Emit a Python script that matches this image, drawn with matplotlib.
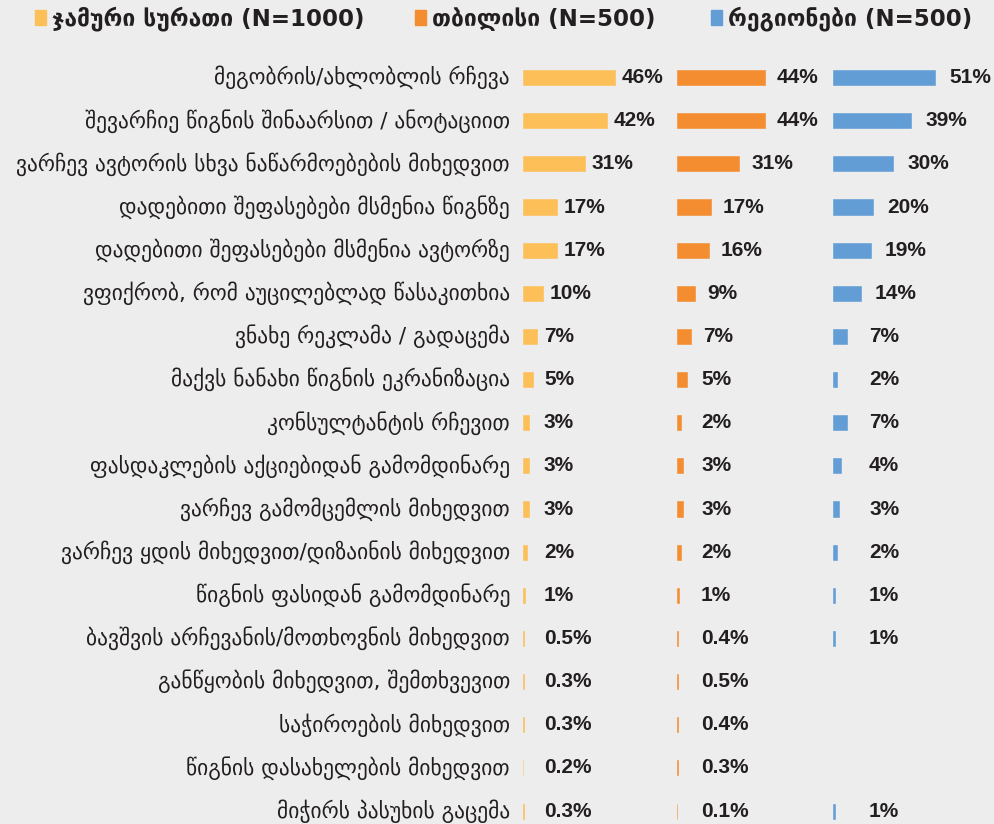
import numpy as np
import matplotlib.pyplot as plt
from matplotlib.patches import Rectangle

categories = [
    "მეგობრის/ახლობლის რჩევა",
    "შევარჩიე წიგნის შინაარსით / ანოტაციით",
    "ვარჩევ ავტორის სხვა ნაწარმოებების მიხედვით",
    "დადებითი შეფასებები მსმენია წიგნზე",
    "დადებითი შეფასებები მსმენია ავტორზე",
    "ვფიქრობ, რომ აუცილებლად წასაკითხია",
    "ვნახე რეკლამა / გადაცემა",
    "მაქვს ნანახი წიგნის ეკრანიზაცია",
    "კონსულტანტის რჩევით",
    "ფასდაკლების აქციებიდან გამომდინარე",
    "ვარჩევ გამომცემლის მიხედვით",
    "ვარჩევ ყდის მიხედვით/დიზაინის მიხედვით",
    "წიგნის ფასიდან გამომდინარე",
    "ბავშვის არჩევანის/მოთხოვნის მიხედვით",
    "განწყობის მიხედვით, შემთხვევით",
    "საჭიროების მიხედვით",
    "წიგნის დასახელების მიხედვით",
    "მიჭირს პასუხის გაცემა",
]
total = [46, 42, 31, 17, 17, 10, 7, 5, 3, 3, 3, 2, 1, 0.5, 0.3, 0.3, 0.2, 0.3]
tbilisi = [44, 44, 31, 17, 16, 9, 7, 5, 2, 3, 3, 2, 1, 0.4, 0.5, 0.4, 0.3, 0.1]
regions = [51, 39, 30, 20, 19, 14, 7, 2, 7, 4, 3, 2, 1, 1, np.nan, np.nan, np.nan, 1]

series_names = ["ჯამური სურათი (N=1000)", "თბილისი (N=500)", "რეგიონები (N=500)"]
colors = ["#fdbf57", "#f48c30", "#629dd6"]

BG = "#ededed"
TXT = "#231f20"
W, H = 994, 824

fig = plt.figure(figsize=(W / 100, H / 100), dpi=100)
fig.patch.set_facecolor(BG)

# panel geometry in pixels: left edge, width (1% = 2 px)
panels = [(523, 154), (677, 156), (833, 161)]
label_gap = [3.5, 6, 7]
label_min = [10.5, 12, 18]
top_px, bot_px = 56, 824
y = np.arange(len(categories))

for k, (vals, (left, width)) in enumerate(zip([total, tbilisi, regions], panels)):
    ax = fig.add_axes([left / W, 1 - bot_px / H, width / W, (bot_px - top_px) / H])
    ax.set_xlim(0, width / 2)
    ax.set_ylim(17.3, -0.5)
    ax.axis("off")
    v = np.array(vals, dtype=float)
    ok = ~np.isnan(v)
    ax.barh(y[ok], v[ok], height=0.35, color=colors[k],
            edgecolor=colors[k], linewidth=0.4)
    for i in y[ok]:
        s = f"{v[i]:g}%"
        ax.text(max(v[i] + label_gap[k], label_min[k]), i, s, ha="left", va="center",
                fontsize=15, fontweight="bold", family="Liberation Sans", color=TXT)
    if k == 0:
        for i, c in enumerate(categories):
            ax.text(-6.5, i, c, ha="right", va="center", fontsize=15.5,
                    family="DejaVu Sans", color=TXT, clip_on=False)

# legend across the top
leg_x = [35, 415, 711]
for name, col, x0 in zip(series_names, colors, leg_x):
    fig.patches.append(Rectangle((x0 / W, 1 - 25 / H), 11 / W, 15 / H,
                                 transform=fig.transFigure, color=col))
    fig.text((x0 + 17) / W, 1 - 19 / H, name, ha="left", va="center", fontsize=16.5,
             fontweight="bold", family="DejaVu Sans", color=TXT)

plt.savefig("out.png", dpi=100, facecolor=BG)
plt.close()
